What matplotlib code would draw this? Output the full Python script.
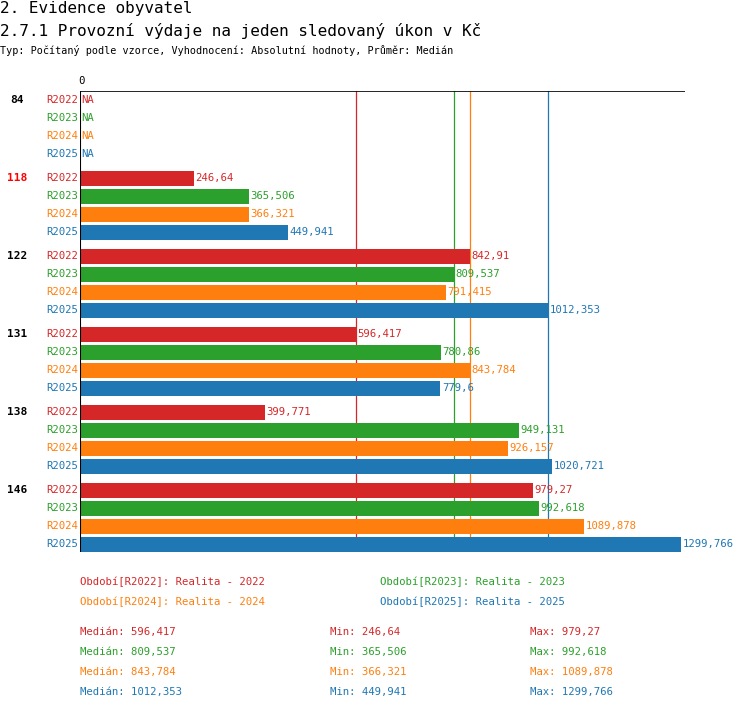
import matplotlib
matplotlib.use("Agg")
import matplotlib.pyplot as plt
import numpy as np

# ── Data ──────────────────────────────────────────────────────────────────────
groups = ["84", "118", "122", "131", "138", "146"]
series = ["R2022", "R2023", "R2024", "R2025"]
colors = ["#d62728", "#2ca02c", "#ff7f0e", "#1f77b4"]
values = {
    "R2022": [None, 246.64, 842.91, 596.417, 399.771, 979.27],
    "R2023": [None, 365.506, 809.537, 780.86, 949.131, 992.618],
    "R2024": [None, 366.321, 791.415, 843.784, 926.157, 1089.878],
    "R2025": [None, 449.941, 1012.353, 779.6, 1020.721, 1299.766],
}
highlight = "118"
legend_names = ["Realita - 2022", "Realita - 2023", "Realita - 2024", "Realita - 2025"]

W, H = 750, 710
FONT = "DejaVu Sans Mono"
plt.rcParams["font.family"] = FONT

fig = plt.figure(figsize=(W / 100, H / 100), dpi=100)

def fx(px):
    return px / W

def fy(py):
    return 1 - py / H

# axes: x 80..685 px, y 91..552 px
ax_l, ax_r, ax_t, ax_b = 80, 685, 91, 552
ax = fig.add_axes([fx(ax_l), fy(ax_b), fx(ax_r - ax_l), (ax_b - ax_t) / H])
px_per_unit = (681 - 80) / 1299.766
ax.set_xlim(0, (ax_r - ax_l) / px_per_unit)
ax.set_ylim(ax_b, ax_t)
ax.axis("off")

fmt = lambda v: f"{v:.3f}".rstrip("0").rstrip(".").replace(".", ",")

for g, grp in enumerate(groups):
    for r, s in enumerate(series):
        y = 100 + 78 * g + 18 * r
        v = values[s][g]
        c = colors[r]
        if v is None:
            ax.text(3, y, "NA", color=c, fontsize=7.7, va="center")
        else:
            ax.barh(y, v, height=15, color=c)
            ax.text(v + 3, y, fmt(v), color=c, fontsize=7.7, va="center")
        fig.text(fx(78), fy(y), s, color=c, fontsize=7.7, ha="right", va="center")
    gy = 100 + 78 * g
    fig.text(fx(17), fy(gy), grp, fontsize=8, fontweight="bold", ha="center", va="center",
             color="#ff0000" if grp == highlight else "black")

# median lines
medians = [float(np.median([v for v in values[s] if v is not None])) for s in series]
for m, c in zip(medians, colors):
    ax.axvline(m, color=c, lw=0.9, zorder=0)
ax.axvline(0, color="black", lw=1.5)
ax.axhline(ax_t, color="black", lw=1.2, xmin=-0.01)
fig.text(fx(81), fy(81), "0", fontsize=7.7, ha="center", va="center")

# titles
fig.text(fx(0), fy(9), "2. Evidence obyvatel", fontsize=11.5, va="center")
fig.text(fx(0), fy(31), "2.7.1 Provozní výdaje na jeden sledovaný úkon v Kč", fontsize=11.5, va="center")
fig.text(fx(0), fy(51), "Typ: Počítaný podle vzorce, Vyhodnocení: Absolutní hodnoty, Průměr: Medián",
         fontsize=7.3, va="center")

# legend
leg_pos = [(80, 582), (380, 582), (80, 602), (380, 602)]
for (lx, ly), s, n, c in zip(leg_pos, series, legend_names, colors):
    fig.text(fx(lx), fy(ly), f"Období[{s}]: {n}", color=c, fontsize=7.7, va="center")

# stats
for i, (s, c) in enumerate(zip(series, colors)):
    vals = [v for v in values[s] if v is not None]
    y = 632 + 20 * i
    fig.text(fx(80), fy(y), f"Medián: {fmt(np.median(vals))}", color=c, fontsize=7.7, va="center")
    fig.text(fx(330), fy(y), f"Min: {fmt(min(vals))}", color=c, fontsize=7.7, va="center")
    fig.text(fx(530), fy(y), f"Max: {fmt(max(vals))}", color=c, fontsize=7.7, va="center")

fig.savefig("out.png", dpi=100)
